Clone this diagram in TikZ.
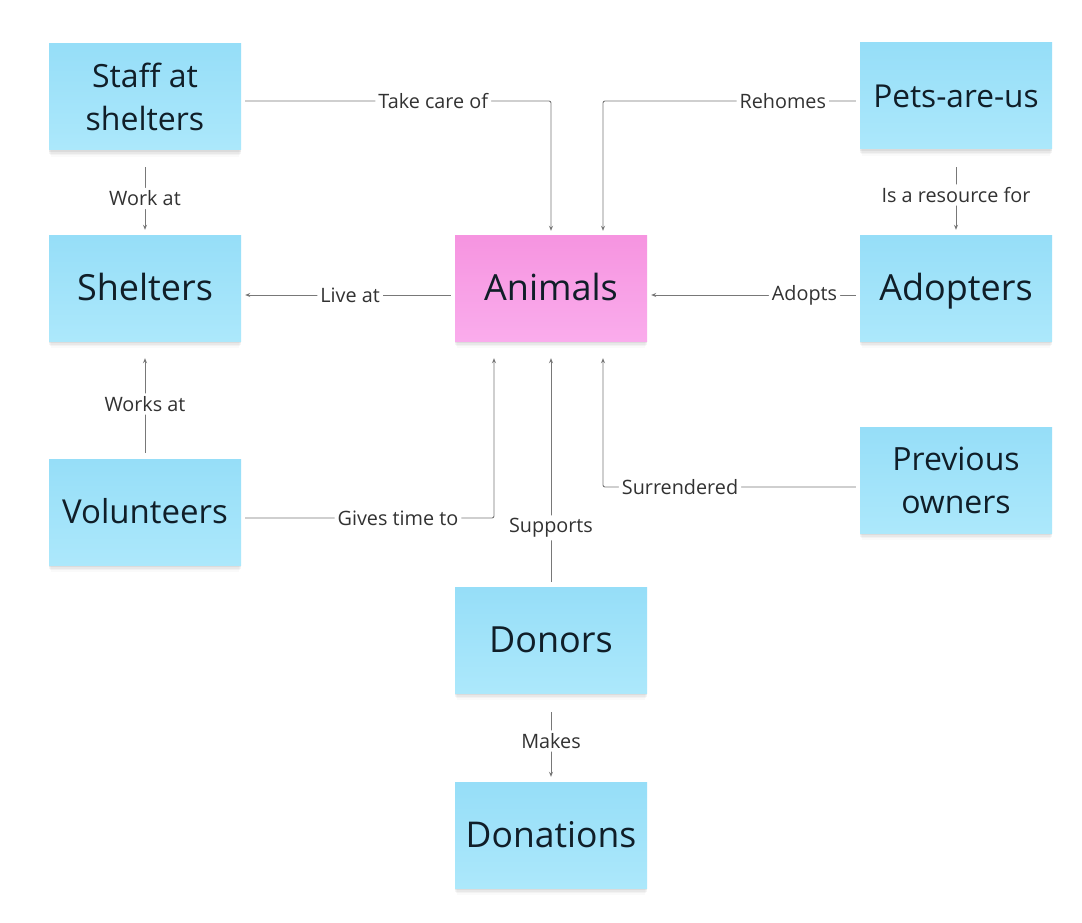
\documentclass[tikz,border=0pt]{standalone}
\usepackage{fontspec}
\setmainfont{Open Sans}
\usetikzlibrary{calc,shadows,arrows.meta}
\definecolor{bluetop}{RGB}{150,222,248}
\definecolor{bluebot}{RGB}{172,232,251}
\definecolor{pinktop}{RGB}{246,148,224}
\definecolor{pinkbot}{RGB}{250,172,236}
\definecolor{txt}{RGB}{16,30,40}
\definecolor{lbltxt}{RGB}{50,50,50}
\definecolor{lin}{RGB}{120,120,120}
\tikzset{
  sticky/.style={rectangle, minimum width=192pt, minimum height=106pt, inner sep=0pt,
    top color=bluetop, bottom color=bluebot, draw=none, text=txt,
    align=center, font=\fontsize{36}{40}\selectfont,
    text height=25.7pt, text depth=0pt,
    drop shadow={shadow xshift=0pt, shadow yshift=-2pt, opacity=0.05, fill=black},
    drop shadow={shadow xshift=0pt, shadow yshift=-4pt, opacity=0.04, fill=black},
    drop shadow={shadow xshift=0pt, shadow yshift=-6pt, shadow scale=0.99, opacity=0.03, fill=black},
    drop shadow={shadow xshift=0pt, shadow yshift=-8pt, shadow scale=0.98, opacity=0.02, fill=black}},
  sticky2/.style={sticky, font=\fontsize{32}{43}\selectfont, text height=, text depth=},
  pinknote/.style={sticky, top color=pinktop, bottom color=pinkbot},
  conn/.style={draw=lin, line width=0.9pt, rounded corners=2pt,
    -{Stealth[length=5pt,width=4pt]}},
  lbl/.style={fill=white, inner sep=3pt, text=lbltxt, font=\fontsize{19.8}{22}\selectfont}
}
\begin{document}
\begin{tikzpicture}[x=1pt,y=-1pt]
\fill[white] (0,0) rectangle (1082,923);
\useasboundingbox (0,0) rectangle (1082,923);

\node[sticky2] (staff) at (145,97) {Staff at\\shelters};
\node[sticky] (shelters) at (145,288) {Shelters};
\node[sticky, font=\fontsize{33}{38}\selectfont, text height=23.6pt] (volunteers) at (145,512) {Volunteers};
\node[pinknote] (animals) at (551,288) {Animals};
\node[sticky, font=\fontsize{31.6}{36}\selectfont, text height=22.6pt] (pets) at (956,96) {Pets-are-us};
\node[sticky] (adopters) at (956,288) {Adopters};
\node[sticky2] (prev) at (956,480) {Previous\\owners};
\node[sticky] (donors) at (551,640) {Donors};
\node[sticky, font=\fontsize{35.5}{40}\selectfont, text height=25.3pt] (donations) at (551,835) {Donations};

% Staff -> Animals
\draw[conn, shorten <=4pt, shorten >=4pt] ($(staff.east)+(0,4)$) -| node[lbl, pos=0.31] {Take care of} (animals.north);
% Pets -> Animals
\draw[conn, shorten <=4pt, shorten >=4pt] ($(pets.west)+(0,5)$) -| node[lbl, pos=0.15] {Rehomes} ($(animals.north)+(52,0)$);
% Staff -> Shelters
\draw[conn, shorten <=17pt, shorten >=5pt] (staff.south) -- node[lbl, pos=0.57] {Work at} (shelters.north);
% Pets -> Adopters
\draw[conn, shorten <=18pt, shorten >=5pt] (pets.south) -- node[lbl, pos=0.535] {Is a resource for} (adopters.north);
% Animals -> Shelters
\draw[conn, shorten <=4pt, shorten >=4pt] ($(animals.west)+(0,7)$) -- node[lbl, pos=0.49] {Live at} ($(shelters.east)+(0,7)$);
% Adopters -> Animals
\draw[conn, shorten <=4pt, shorten >=4pt] ($(adopters.west)+(0,7)$) -- node[lbl, pos=0.26] {Adopts} ($(animals.east)+(0,7)$);
% Volunteers -> Shelters
\draw[conn, shorten <=6pt, shorten >=17pt] (volunteers.north) -- node[lbl, pos=0.466] {Works at} (shelters.south);
% Volunteers -> Animals
\draw[conn, shorten <=4pt, shorten >=17pt] ($(volunteers.east)+(0,6)$) -| node[lbl, pos=0.31] {Gives time to} ($(animals.south)+(-57,0)$);
% Donors -> Animals
\draw[conn, shorten <=5pt, shorten >=17pt] (donors.north) -- node[lbl, pos=0.24] {Supports} (animals.south);
% Previous owners -> Animals
\draw[conn, shorten <=4pt, shorten >=17pt] ($(prev.west)+(0,7)$) -| node[lbl, pos=0.35] {Surrendered} ($(animals.south)+(52,0)$);
% Donors -> Donations
\draw[conn, shorten <=19pt, shorten >=5pt] (donors.south) -- node[lbl, pos=0.54] {Makes} (donations.north);
\end{tikzpicture}
\end{document}
